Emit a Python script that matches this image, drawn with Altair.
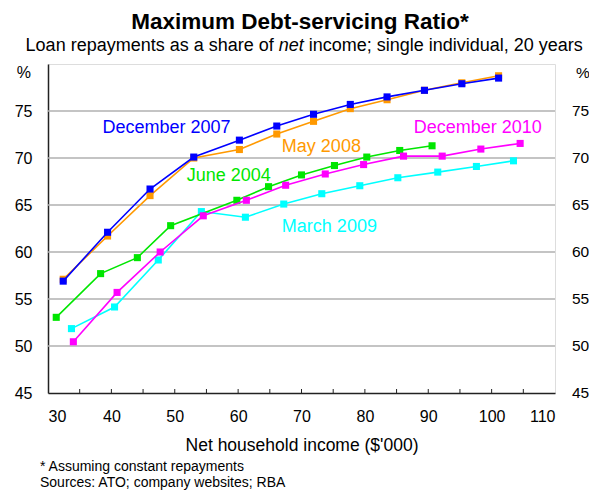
import altair as alt
import pandas as pd

# ---- data ----
dec2007_x = [32.4, 39.4, 46.1, 53.0, 60.2, 66.1, 71.9, 77.7, 83.5, 89.4, 95.3, 101.1]
dec2007_y = [56.9, 62.1, 66.7, 70.1, 71.9, 73.4, 74.65, 75.7, 76.5, 77.2, 77.9, 78.5]
may2008_x = [32.4, 39.4, 46.1, 53.0, 60.2, 66.1, 71.9, 77.7, 83.5, 89.4, 95.3, 101.1]
may2008_y = [57.1, 61.7, 66.0, 70.0, 70.9, 72.55, 73.9, 75.25, 76.2, 77.2, 78.0, 78.75]
jun2004_x = [31.3, 38.3, 44.1, 49.35, 59.8, 64.8, 70.0, 75.2, 80.3, 85.5, 90.6]
jun2004_y = [53.05, 57.7, 59.4, 62.8, 65.5, 66.95, 68.2, 69.2, 70.1, 70.8, 71.3]
dec2010_x = [34.0, 40.9, 47.7, 54.5, 61.3, 67.5, 73.75, 79.8, 86.1, 92.2, 98.3, 104.5]
dec2010_y = [50.45, 55.7, 60.0, 63.85, 65.5, 67.1, 68.3, 69.3, 70.2, 70.2, 70.95, 71.55]
mar2009_x = [33.7, 40.5, 47.4, 54.2, 61.15, 67.2, 73.2, 79.2, 85.2, 91.5, 97.6, 103.45]
mar2009_y = [51.85, 54.15, 59.15, 64.3, 63.7, 65.1, 66.2, 67.05, 67.9, 68.5, 69.1, 69.7]

series_names = ["March 2009", "June 2004", "December 2010", "May 2008", "December 2007"]
series_colors = ["#00ffff", "#00e600", "#ff00ff", "#ff9900", "#0000ff"]
series_x = [mar2009_x, jun2004_x, dec2010_x, may2008_x, dec2007_x]
series_y = [mar2009_y, jun2004_y, dec2010_y, may2008_y, dec2007_y]

# label anchor positions (data units: left edge, baseline)
label_x = [66.9, 51.9, 87.7, 66.9, 38.6]
label_y = [62.16, 67.6, 72.65, 70.67, 72.7]

x_ticks = [30, 40, 50, 60, 70, 80, 90, 100, 110]
minor_ticks = [35, 40, 45, 50, 55, 60, 65, 70, 75, 80, 85, 90, 95, 100, 105]
y_ticks = [45, 50, 55, 60, 65, 70, 75]
grid_vals = [50, 55, 60, 65, 70, 75]

title_text = "Maximum Debt-servicing Ratio*"
subtitle_parts = ["Loan repayments as a share of", "net",
                  "income; single individual, 20 years"]
footnotes = ["* Assuming constant repayments",
             "Sources: ATO; company websites; RBA"]

W, H = 507, 329
FONT = "Liberation Sans"

xs = alt.Scale(domain=[30, 110], nice=False, zero=False)
ys = alt.Scale(domain=[45, 80], nice=False, zero=False)

x_axis = alt.Axis(
    values=x_ticks, grid=False, ticks=False, domain=True,
    domainColor="#222222", domainWidth=1.5, labelFontSize=16,
    labelColor="black", labelFont=FONT, labelPadding=15,
    title="Net household income ($'000)", titleFontSize=17.5,
    titleFontWeight="normal", titleFont=FONT, titleColor="black",
    titlePadding=12)
y_axis = alt.Axis(
    values=y_ticks, grid=False, ticks=False, domain=True,
    domainColor="#222222", domainWidth=1.5, labelFontSize=16,
    labelColor="black", labelFont=FONT, labelPadding=16, title=None)

X = lambda f: alt.X(f, scale=xs, axis=x_axis)
Y = lambda f: alt.Y(f, scale=ys, axis=y_axis)

layers = []

# gridlines
grid_df = pd.DataFrame({"v": grid_vals})
layers.append(
    alt.Chart(grid_df).mark_rule(color="#b0b0b0", strokeWidth=1.5).encode(
        y=Y("v:Q"), x=alt.value(0), x2=alt.value(W),
    )
)

# minor ticks along the bottom (pointing inward)
tick_df = pd.DataFrame({"t": minor_ticks})
layers.append(
    alt.Chart(tick_df).mark_rule(color="#222222", strokeWidth=1).encode(
        x=X("t:Q"), y=alt.value(H), y2=alt.value(H - 4),
    )
)

# right-hand labels
right_df = pd.DataFrame({"v": y_ticks})
layers.append(
    alt.Chart(right_df).mark_text(align="left", baseline="middle", fontSize=15.5,
                                  font=FONT, color="black").encode(
        y=Y("v:Q"), x=alt.value(W + 17), text=alt.Text("v:Q"),
    )
)

# series
for name, col, sx, sy, lx, ly in zip(series_names, series_colors, series_x,
                                     series_y, label_x, label_y):
    df = pd.DataFrame({"x": sx, "y": sy, "s": name})
    base = alt.Chart(df).encode(x=X("x:Q"), y=Y("y:Q"))
    layers.append(base.mark_line(color=col, strokeWidth=1.6))
    layers.append(base.mark_square(color=col, size=50, opacity=1))
    ldf = pd.DataFrame({"x": [lx], "y": [ly], "s": [name]})
    layers.append(
        alt.Chart(ldf).mark_text(align="left", baseline="alphabetic",
                                 fontSize=18, font=FONT, color=col).encode(
            x=X("x:Q"), y=Y("y:Q"), text="s:N",
        )
    )

def txt(t, x, y, size, align="left", baseline="alphabetic", weight="normal",
        style="normal"):
    return alt.Chart(pd.DataFrame({"t": [t]})).mark_text(
        align=align, baseline=baseline, fontSize=size, font=FONT,
        color="black", fontWeight=weight, fontStyle=style,
    ).encode(text="t:N", x=alt.value(x), y=alt.value(y))

# title and subtitle (subtitle has an italic word)
layers.append(txt(title_text, 252, -35.5, 22.5, align="center", weight="bold"))
sub_size = 18
layers.append(txt(subtitle_parts[0], -22.4, -13, sub_size))
layers.append(txt(subtitle_parts[1], 230.7, -13, sub_size, style="italic"))
layers.append(txt(subtitle_parts[2], 260.7, -13, sub_size))

# "%" unit markers
layers.append(txt("%", -17, 8.5, 16, align="right", baseline="middle"))
layers.append(txt("%", W + 21, 8.5, 15.5, baseline="middle"))

# footnotes
layers.append(txt(footnotes[0], -8, 403, 14, baseline="middle"))
layers.append(txt(footnotes[1], -8, 419, 14, baseline="middle"))

chart = alt.layer(*layers).properties(
    width=W, height=H,
    autosize=alt.AutoSizeParams(type="none"),
    padding={"left": 40, "top": 56, "right": 34, "bottom": 97},
).configure_view(stroke="#222222", strokeWidth=1.5).configure(background="white")

chart.save("out.html", embed_options={"renderer": "svg", "actions": False})
